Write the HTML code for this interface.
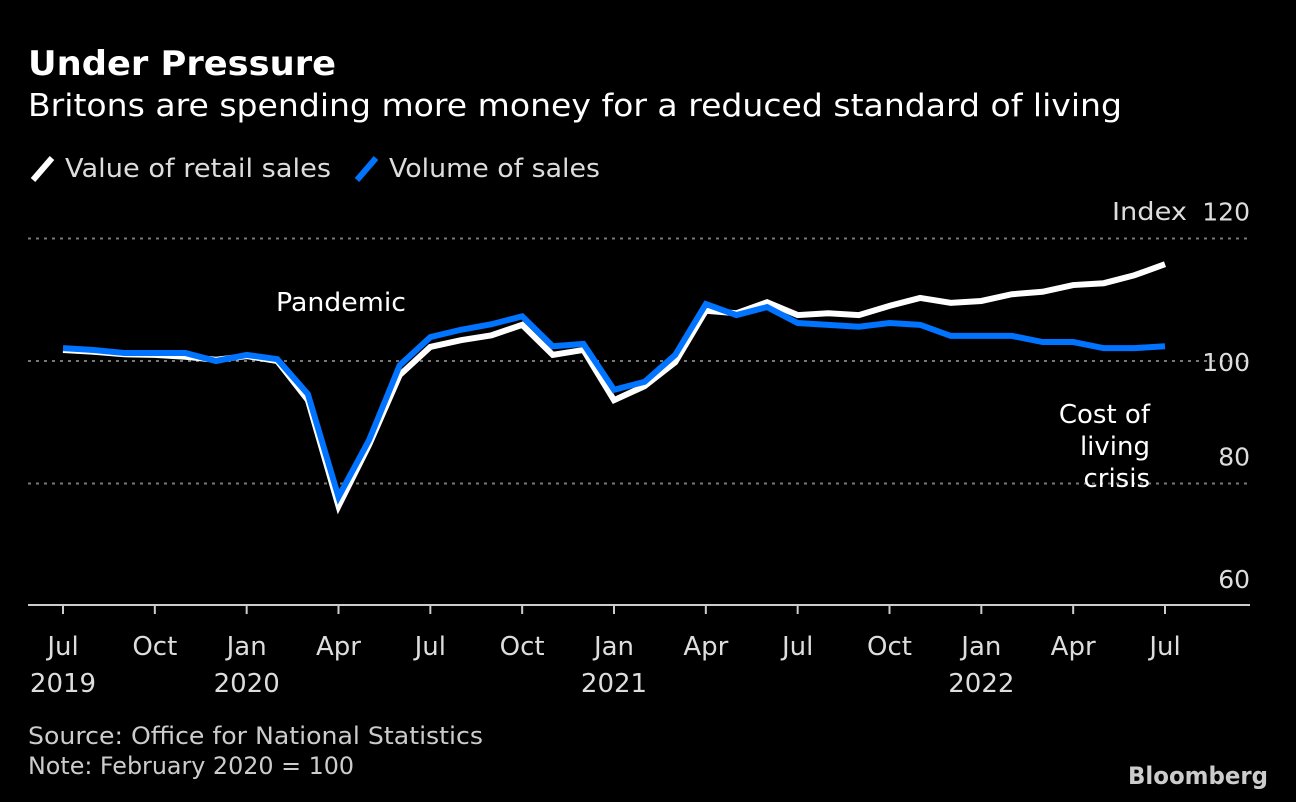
<!DOCTYPE html>
<html><head><meta charset="utf-8"><style>
body{margin:0;background:#000;width:1296px;height:802px;overflow:hidden;font-family:"DejaVu Sans","Liberation Sans",sans-serif;color:#fff}
svg text{font-family:"DejaVu Sans","Liberation Sans",sans-serif}
</style></head><body>
<svg width="1296" height="802" id="c" style="position:absolute;left:0;top:0">
<text x="28" y="75" font-size="34" font-weight="bold" fill="#fff" textLength="308" lengthAdjust="spacingAndGlyphs">Under Pressure</text>
<text x="28" y="116" font-size="31" fill="#fff" textLength="1094" lengthAdjust="spacingAndGlyphs">Britons are spending more money for a reduced standard of living</text>
<g>
<line x1="33" y1="180" x2="52" y2="158" stroke="#fff" stroke-width="6"/>
<text x="65" y="177" font-size="26" fill="#ddd" textLength="266" lengthAdjust="spacingAndGlyphs">Value of retail sales</text>
<line x1="357" y1="180" x2="376" y2="158" stroke="#0073ff" stroke-width="6"/>
<text x="389" y="177" font-size="26" fill="#ddd" textLength="211" lengthAdjust="spacingAndGlyphs">Volume of sales</text>
</g>
<text x="1112" y="220" font-size="25" fill="#ddd" textLength="75" lengthAdjust="spacingAndGlyphs">Index</text>
<g id="grid"></g><g id="xt"></g><g id="lines"></g>
<text x="276" y="311" font-size="26" fill="#fff" textLength="130" lengthAdjust="spacingAndGlyphs">Pandemic</text>
<text font-size="26" fill="#fff" text-anchor="end"><tspan x="1150" y="423">Cost of</tspan><tspan x="1150" y="455">living</tspan><tspan x="1150" y="487">crisis</tspan></text>
<text x="28" y="744" font-size="24" fill="#ccc" textLength="455" lengthAdjust="spacingAndGlyphs">Source: Office for National Statistics</text>
<text x="28" y="774" font-size="24" fill="#ccc" textLength="326" lengthAdjust="spacingAndGlyphs">Note: February 2020 = 100</text>
<text x="1268" y="784" font-size="24" font-weight="bold" fill="#ccc" text-anchor="end" textLength="140" lengthAdjust="spacingAndGlyphs">Bloomberg</text>
</svg>
<script>
const valueSeries=[101.8,101.5,101.1,101.0,100.7,100.2,100.8,100.0,93.6,76.3,86.3,97.7,102.3,103.4,104.2,105.9,101.0,101.8,93.6,95.9,99.8,108.2,107.8,109.6,107.5,107.8,107.5,109.0,110.3,109.5,109.8,110.9,111.3,112.4,112.7,114.0,115.8];
const volumeSeries=[102.1,101.8,101.3,101.3,101.3,100.0,101.0,100.3,94.6,77.8,87.1,99.3,103.9,105.1,106.0,107.3,102.4,102.8,95.3,96.6,101.0,109.3,107.5,108.8,106.2,105.9,105.6,106.2,105.9,104.1,104.1,104.1,103.1,103.1,102.1,102.1,102.4];
const yTicks=[60,80,100,120];
const xTickMonths=[0,3,6,9,12,15,18,21,24,27,30,33,36];
const xTickLabels=["Jul","Oct","Jan","Apr","Jul","Oct","Jan","Apr","Jul","Oct","Jan","Apr","Jul"];
const xYearLabels=["2019","","2020","","","","2021","","","","2022","",""];
const NS="http://www.w3.org/2000/svg";
const X=i=>63+i*(1165-63)/36;
const Y=v=>361-(v-100)*6.125;
function mk(t,a,p){const e=document.createElementNS(NS,t);for(const k in a)e.setAttribute(k,a[k]);p.appendChild(e);return e;}
const g=document.getElementById('grid');
yTicks.forEach(v=>{
 if(v>60){const l=mk('line',{x1:28,x2:1250,y1:Y(v),y2:Y(v),stroke:'#777','stroke-width':2,'stroke-dasharray':'3,5'},g);
 
 }
 const off=(v==100)?10:-18;
 const t=mk('text',{x:1250,y:Y(v)+off,'font-size':25,fill:'#ddd','text-anchor':'end'},g);
 t.textContent=v;
 
 
});
const ax=mk('line',{x1:28,x2:1250,y1:605,y2:605,stroke:'#ccc','stroke-width':2},g);


const xt=document.getElementById('xt');
xTickMonths.forEach((m,i)=>{
 const l=mk('line',{x1:X(m),x2:X(m),y1:605,y2:614,stroke:'#ccc','stroke-width':2},xt);
 
 
 const t=mk('text',{x:X(m),y:655,'font-size':26,fill:'#ddd','text-anchor':'middle'},xt);
 t.textContent=xTickLabels[i];
 
 
 if(xYearLabels[i]){const y=mk('text',{x:X(m),y:692,'font-size':26,fill:'#ddd','text-anchor':'middle'},xt);
 y.textContent=xYearLabels[i];
 
 }
});
const L=document.getElementById('lines');
[[valueSeries,'#fff','value-line'],[volumeSeries,'#0073ff','volume-line']].forEach(([s,c,n])=>{
 const p=mk('polyline',{points:s.map((v,i)=>X(i)+','+Y(v)).join(' '),fill:'none',stroke:c,'stroke-width':6,'stroke-linejoin':'miter'},L);
 
 
});
</script>
</body></html>
